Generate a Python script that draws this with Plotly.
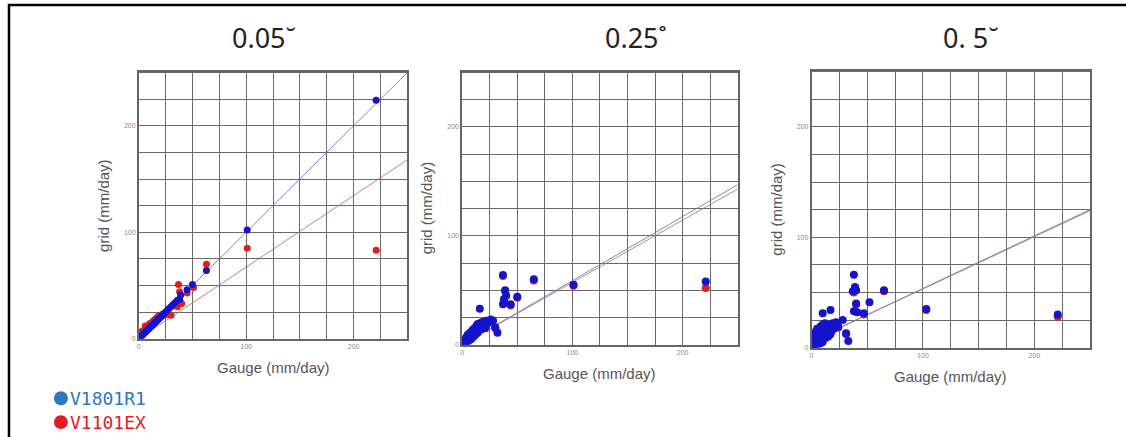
import plotly.graph_objects as go

W, H = 1126, 437

# ---------------- data ----------------
panel_titles = ["0.05˘", "0.25˚", "0. 5˘"]
series_names = ["V1801R1", "V1101EX"]
tick_vals = [0, 100, 200]
tick_text = ["0", "100", "200"]
x_title = "Gauge (mm/day)"
y_title = "grid (mm/day)"

# panel 1 (0.05 deg)
p1_blue = [(1, 1), (2, 2), (3, 3), (4, 4), (5, 5), (6, 6), (7, 7), (8, 8), (9, 9), (10, 10),
           (11, 11), (12, 12), (13, 13), (14, 14), (15, 15), (16, 16), (17, 17), (18, 18),
           (19, 19), (20, 20), (21, 21), (22, 22), (24, 24), (26, 26), (28, 28), (30, 30),
           (32, 32), (34, 34), (36, 36), (38, 37), (39, 41), (45, 46), (50, 51), (63, 64),
           (101, 102), (221, 224)]
p1_red = [(1, 3), (2, 4), (3, 7), (4, 6), (5, 8), (6, 12), (7, 9), (8, 11), (9, 12), (10, 14),
          (11, 13), (12, 15), (13, 16), (14, 17), (15, 18), (16, 19), (17, 17), (18, 21),
          (19, 20), (20, 22), (22, 23), (24, 22), (27, 23), (30, 22), (36, 30), (37, 51),
          (38, 44), (40, 33), (45, 43), (51, 48), (63, 70), (101, 85), (221, 83)]

# panel 2 (0.25 deg)
p2_blue = [(1, 1), (1, 3), (2, 2), (2, 5), (3, 1), (3, 4), (4, 3), (4, 7), (5, 2), (5, 6),
           (5, 9), (6, 4), (6, 8), (7, 6), (7, 11), (8, 5), (8, 10), (9, 8), (9, 13), (10, 7),
           (10, 12), (11, 10), (11, 15), (12, 9), (12, 14), (13, 12), (13, 17), (14, 11),
           (14, 19), (15, 13), (15, 16), (16, 18), (17, 14), (17, 20), (18, 17), (19, 21),
           (20, 19), (21, 15), (22, 22), (24, 20), (26, 23), (28, 22), (30, 16), (32, 11),
           (16, 33), (37, 64), (37, 37), (38, 38), (38, 42), (39, 50), (40, 45), (44, 37),
           (50, 44), (65, 60), (101, 55), (221, 58)]
p2_red = [(1, 1), (2, 2), (3, 3), (4, 5), (5, 4), (6, 6), (7, 8), (8, 7), (9, 10), (10, 9),
          (11, 12), (12, 11), (13, 14), (14, 13), (15, 15), (16, 17), (18, 16), (20, 18),
          (22, 20), (26, 22), (30, 15), (37, 63), (38, 41), (39, 49), (44, 36), (50, 43),
          (65, 59), (101, 54), (221, 52)]

# panel 3 (0.5 deg)
p3_blue = [(1, 1), (1, 4), (2, 2), (2, 6), (2, 9), (3, 3), (3, 12), (4, 2), (4, 7), (4, 15),
           (5, 5), (5, 10), (5, 17), (6, 3), (6, 8), (6, 13), (7, 6), (7, 11), (7, 16), (8, 4),
           (8, 9), (8, 14), (8, 19), (9, 7), (9, 12), (10, 5), (10, 10), (10, 16), (10, 21),
           (10, 31), (11, 8), (11, 13), (12, 11), (12, 18), (12, 22), (13, 9), (13, 15),
           (14, 12), (14, 20), (15, 10), (15, 17), (16, 14), (16, 21), (17, 34), (17, 12),
           (18, 19), (18, 15), (19, 22), (20, 17), (21, 20), (22, 23), (24, 19), (28, 25),
           (31, 13), (33, 6), (37, 51), (38, 66), (39, 55), (40, 52), (38, 33), (41, 32),
           (40, 40), (47, 31), (52, 41), (65, 52), (103, 35), (221, 30)]
p3_red = [(1, 2), (2, 3), (3, 5), (4, 6), (5, 8), (6, 10), (7, 9), (8, 12), (9, 11), (10, 14),
          (12, 15), (14, 16), (16, 18), (18, 17), (20, 19), (24, 18), (31, 12), (38, 50),
          (39, 54), (40, 39), (47, 30), (65, 51), (103, 34), (221, 28)]

# regression / reference lines (gauge endpoints, grid values)
fit_x = [0, 250]
p1_fit_blue = [0, 250]
p1_fit_red = [0, 168]
p2_fit_blue = [0, 147]
p2_fit_red = [0, 143]
p3_fit_blue = [6, 125]
p3_fit_red = [6, 124]

# ---------------- layout geometry (pixels) ----------------
panels_px = [  # left, right, top, bottom
    (137, 406, 72, 341),
    (461, 737, 72, 347),
    (811, 1090, 71, 350),
]
title_px = [(262, 38), (635, 38), (971, 38)]

BLUE = "#1414cc"
RED = "#e01e1e"
LINE_BLUE = "rgba(110,110,190,0.85)"
LINE_RED = "rgba(180,110,110,0.85)"


def px_x(x):
    return x / W


def px_y(y):
    return 1 - y / H


fig = go.Figure()

panel_points = [(p1_blue, p1_red), (p2_blue, p2_red), (p3_blue, p3_red)]
panel_fits = [(p1_fit_blue, p1_fit_red), (p2_fit_blue, p2_fit_red), (p3_fit_blue, p3_fit_red)]
msizes = [7, 8, 8]

for i in range(3):
    xa = "x" if i == 0 else f"x{i+1}"
    ya = "y" if i == 0 else f"y{i+1}"
    blue, red = panel_points[i]
    fb, fr = panel_fits[i]
    fig.add_trace(go.Scatter(x=fit_x, y=fb, mode="lines", line=dict(color=LINE_BLUE, width=1),
                             xaxis=xa, yaxis=ya, showlegend=False, hoverinfo="skip"))
    fig.add_trace(go.Scatter(x=fit_x, y=fr, mode="lines", line=dict(color=LINE_RED, width=1),
                             xaxis=xa, yaxis=ya, showlegend=False, hoverinfo="skip"))
    fig.add_trace(go.Scatter(x=[p[0] for p in red], y=[p[1] for p in red], mode="markers",
                             marker=dict(color=RED, size=msizes[i], line=dict(width=0)),
                             xaxis=xa, yaxis=ya, name=series_names[1], showlegend=False))
    fig.add_trace(go.Scatter(x=[p[0] for p in blue], y=[p[1] for p in blue], mode="markers",
                             marker=dict(color=BLUE, size=msizes[i], line=dict(width=0)),
                             xaxis=xa, yaxis=ya, name=series_names[0], showlegend=False))

annotations = []
layout_axes = {}
for i, (l, r, t, b) in enumerate(panels_px):
    suffix = "" if i == 0 else str(i + 1)
    common = dict(
        range=[0, 250], tickmode="array", tickvals=tick_vals, ticktext=tick_text,
        tickfont=dict(size=7, color="#888888", family="Liberation Sans"),
        showgrid=True, gridcolor="#6a6a6a", gridwidth=1,
        minor=dict(tickmode="linear", tick0=0, dtick=25, showgrid=True,
                   gridcolor="#6a6a6a", gridwidth=1),
        showline=True, linecolor="#666666", linewidth=1.5, mirror=True,
        zeroline=False, ticks="", fixedrange=True,
    )
    layout_axes["xaxis" + suffix] = dict(common, domain=[px_x(l), px_x(r)],
                                         anchor="y" + suffix)
    layout_axes["yaxis" + suffix] = dict(common, range=[0, 251],
                                         domain=[px_y(b), px_y(t)],
                                         anchor="x" + suffix)
    # axis titles
    annotations.append(dict(text=x_title, x=px_x((l + r) / 2), y=px_y(b + 29),
                            xref="paper", yref="paper", showarrow=False,
                            xanchor="center", yanchor="middle",
                            font=dict(size=15, color="#555555", family="Liberation Sans")))
    annotations.append(dict(text=y_title, x=px_x(l - 36), y=px_y((t + b) / 2),
                            xref="paper", yref="paper", showarrow=False, textangle=-90,
                            xanchor="center", yanchor="middle",
                            font=dict(size=15, color="#555555", family="Liberation Sans")))
    # panel titles
    tx, ty = title_px[i]
    annotations.append(dict(text=panel_titles[i], x=px_x(tx), y=px_y(ty),
                            xref="paper", yref="paper", showarrow=False,
                            xanchor="center", yanchor="middle",
                            font=dict(size=27, color="#222222", family="Noto Sans")))

# legend (manual)
legend_items = [(series_names[0], "#2a78c2", 401), (series_names[1], "#e31b23", 425)]
shapes = []
for name, col, yy in legend_items:
    shapes.append(dict(type="circle", xref="paper", yref="paper",
                       x0=px_x(52), x1=px_x(66), y0=px_y(yy + 7), y1=px_y(yy - 7),
                       fillcolor=col, line=dict(width=0)))
    annotations.append(dict(text=name, x=px_x(66), y=px_y(yy), xref="paper", yref="paper",
                            showarrow=False, xanchor="left", yanchor="middle",
                            font=dict(size=18, color=col, family="DejaVu Sans Mono")))

# outer frame
shapes.append(dict(type="rect", xref="paper", yref="paper",
                   x0=px_x(7), x1=1.05, y0=-0.05, y1=px_y(5),
                   line=dict(color="black", width=2.5), fillcolor="rgba(0,0,0,0)"))

fig.update_layout(
    width=W, height=H, margin=dict(l=0, r=0, t=0, b=0),
    paper_bgcolor="white", plot_bgcolor="white",
    showlegend=False, annotations=annotations, shapes=shapes,
    **layout_axes,
)

fig.write_html("out.html", config={"displayModeBar": False},
               post_script="document.body.style.margin='0px';document.body.style.overflow='hidden';")
